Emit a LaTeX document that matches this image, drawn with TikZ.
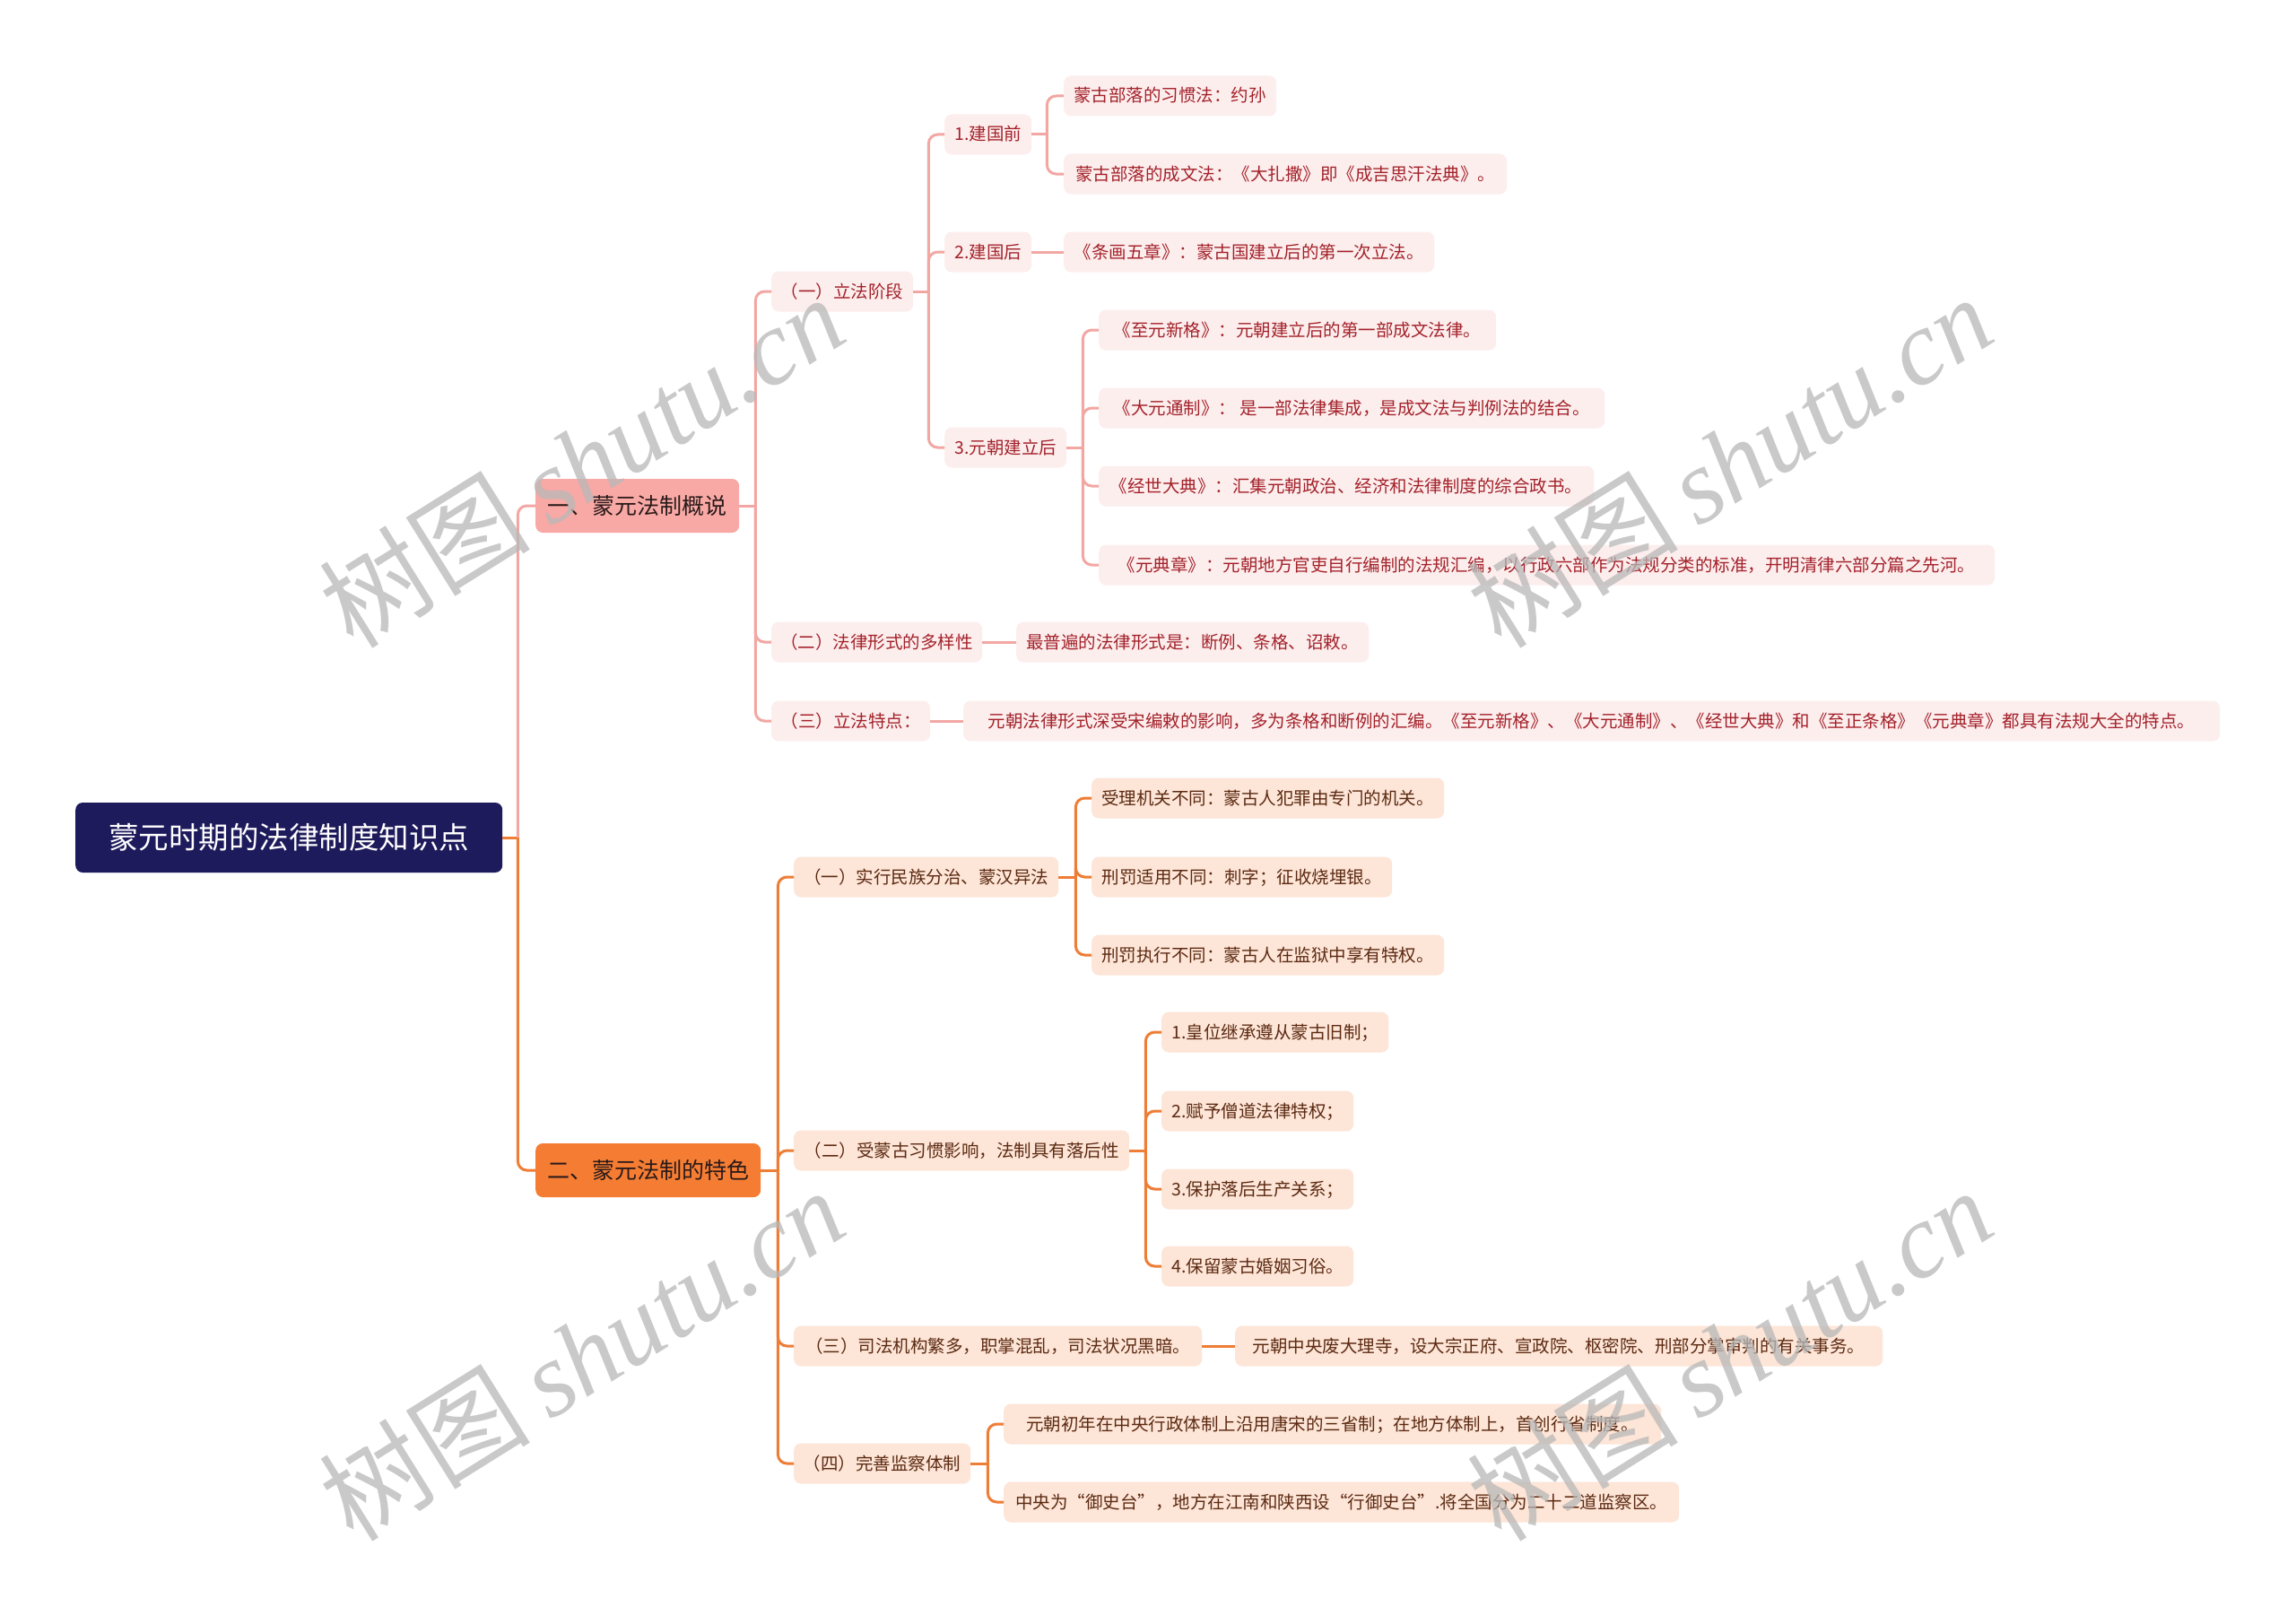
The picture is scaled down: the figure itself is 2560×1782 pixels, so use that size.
\documentclass[tikz,border=0pt]{standalone}
\usepackage{fontspec}
\setmainfont{Noto Sans CJK SC}
\newfontfamily\wmlatin{Liberation Serif}
\definecolor{rootfill}{HTML}{1E1B5C}
\definecolor{pinkmain}{HTML}{F8A9A5}
\definecolor{pinkline}{HTML}{F2A7A3}
\definecolor{pinkleaf}{HTML}{FDEEEE}
\definecolor{pinktext}{HTML}{A3222A}
\definecolor{orangemain}{HTML}{F57D33}
\definecolor{orangeline}{HTML}{EE7D36}
\definecolor{orangeleaf}{HTML}{FDE5D7}
\definecolor{orangetext}{HTML}{5C2A12}
\definecolor{maintext}{HTML}{2A1A1A}
\definecolor{wmgray}{HTML}{B8B8B8}
\begin{document}
\begin{tikzpicture}[x=1pt,y=-1pt,
 box/.style={rounded corners=8, inner xsep=1, inner ysep=0, anchor=west},
 small/.style={font=\fontsize{19.5}{22}\selectfont, text height=17, text depth=3},
 pleaf/.style={box, small, fill=pinkleaf, text=pinktext, minimum height=45},
 oleaf/.style={box, small, fill=orangeleaf, text=orangetext, minimum height=45},
 topic/.style={box, font=\fontsize{25}{28}\selectfont, text height=22.5, text depth=3.5, text=maintext, minimum height=60},
 rootbox/.style={box, fill=rootfill, text=white, font=\fontsize{33.5}{36}\selectfont, text height=30, text depth=5, minimum height=78},
 pconn/.style={draw=pinkline, line width=3, rounded corners=10},
 oconn/.style={draw=orangeline, line width=3, rounded corners=10},
 wm/.style={text=wmgray, opacity=0.75, rotate=32, inner sep=0}
]
\fill[white] (0,0) rectangle (2560,1782);
\useasboundingbox (0,0) rectangle (2560,1782);

% root and main topics
\node[rootbox, minimum width=476] (root) at (84,934) {蒙元时期的法律制度知识点};
\node[topic, fill=pinkmain, minimum width=227] (L1a) at (597,564) {一、蒙元法制概说};
\node[topic, fill=orangemain, minimum width=251] (L1b) at (597,1305) {二、蒙元法制的特色};

% pink branch
\node[pleaf, minimum width=158] (a1) at (860,325) {（一）立法阶段};
\node[pleaf, minimum width=235] (a2) at (860,716) {（二）法律形式的多样性};
\node[pleaf, minimum width=177] (a3) at (860,804) {（三）立法特点：};

\node[pleaf, minimum width=97] (a11) at (1053,150) {1.建国前};
\node[pleaf, minimum width=97] (a12) at (1053,281) {2.建国后};
\node[pleaf, minimum width=136] (a13) at (1053,499) {3.元朝建立后};

\node[pleaf, minimum width=237] (a111) at (1186,107) {蒙古部落的习惯法：约孙};
\node[pleaf, minimum width=494] (a112) at (1186,194) {蒙古部落的成文法：《大扎撒》即《成吉思汗法典》。};
\node[pleaf, minimum width=413] (a121) at (1186,281) {《条画五章》：蒙古国建立后的第一次立法。};

\node[pleaf, minimum width=443] (a131) at (1225,368) {《至元新格》：元朝建立后的第一部成文法律。};
\node[pleaf, minimum width=564] (a132) at (1225,455) {《大元通制》： 是一部法律集成，是成文法与判例法的结合。};
\node[pleaf, minimum width=552] (a133) at (1225,542) {《经世大典》：汇集元朝政治、经济和法律制度的综合政书。};
\node[pleaf, minimum width=999] (a134) at (1225,630) {《元典章》：元朝地方官吏自行编制的法规汇编，以行政六部作为法规分类的标准，开明清律六部分篇之先河。};

\node[pleaf, minimum width=393] (a21) at (1133,716) {最普遍的法律形式是：断例、条格、诏敕。};
\node[pleaf, minimum width=1401] (a31) at (1074,804) {元朝法律形式深受宋编敕的影响，多为条格和断例的汇编。《至元新格》、《大元通制》、《经世大典》和《至正条格》《元典章》都具有法规大全的特点。};

% orange branch
\node[oleaf, minimum width=295] (b1) at (885,978) {（一）实行民族分治、蒙汉异法};
\node[oleaf, minimum width=374] (b2) at (885,1283) {（二）受蒙古习惯影响，法制具有落后性};
\node[oleaf, minimum width=455] (b3) at (885,1501) {（三）司法机构繁多，职掌混乱，司法状况黑暗。};
\node[oleaf, minimum width=197] (b4) at (885,1632) {（四）完善监察体制};

\node[oleaf, minimum width=393] (b11) at (1217,890) {受理机关不同：蒙古人犯罪由专门的机关。};
\node[oleaf, minimum width=335] (b12) at (1217,978) {刑罚适用不同：刺字；征收烧埋银。};
\node[oleaf, minimum width=393] (b13) at (1217,1065) {刑罚执行不同：蒙古人在监狱中享有特权。};

\node[oleaf, minimum width=253] (b21) at (1295,1151) {1.皇位继承遵从蒙古旧制；};
\node[oleaf, minimum width=214] (b22) at (1295,1239) {2.赋予僧道法律特权；};
\node[oleaf, minimum width=214] (b23) at (1295,1326) {3.保护落后生产关系；};
\node[oleaf, minimum width=214] (b24) at (1295,1412) {4.保留蒙古婚姻习俗。};

\node[oleaf, minimum width=722] (b31) at (1377,1501) {元朝中央废大理寺，设大宗正府、宣政院、枢密院、刑部分掌审判的有关事务。};
\node[oleaf, minimum width=733] (b41) at (1119,1588) {元朝初年在中央行政体制上沿用唐宋的三省制；在地方体制上，首创行省制度。};
\node[oleaf, minimum width=753] (b42) at (1119,1675) {中央为“御史台”，地方在江南和陕西设“行御史台”.将全国分为二十二道监察区。};

% junctions
\path (root.east) ++(17,0) coordinate (j0);
\path (L1a.east) ++(18,0) coordinate (jA);
\path (a1.east) ++(17,0) coordinate (ja1);
\path (a11.east) ++(17,0) coordinate (ja11);
\path (a13.east) ++(18,0) coordinate (ja13);
\path (L1b.east) ++(19,0) coordinate (jB);
\path (b1.east) ++(19,0) coordinate (jb1);
\path (b2.east) ++(18,0) coordinate (jb2);
\path (b4.east) ++(19,0) coordinate (jb4);

% connectors: root
\draw[oconn] (root.east) -- (j0);
\draw[pconn] (j0) |- (L1a.west);
\draw[oconn] (j0) |- (L1b.west);

% pink connectors
\draw[pconn] (L1a.east) -- (jA);
\foreach \c in {a1,a2,a3} \draw[pconn] (jA) |- (\c.west);
\draw[pconn] (a1.east) -- (ja1);
\foreach \c in {a11,a12,a13} \draw[pconn] (ja1) |- (\c.west);
\draw[pconn] (a11.east) -- (ja11);
\foreach \c in {a111,a112} \draw[pconn] (ja11) |- (\c.west);
\draw[pconn] (a12.east) -- (a121.west);
\draw[pconn] (a13.east) -- (ja13);
\foreach \c in {a131,a132,a133,a134} \draw[pconn] (ja13) |- (\c.west);
\draw[pconn] (a2.east) -- (a21.west);
\draw[pconn] (a3.east) -- (a31.west);

% orange connectors
\draw[oconn] (L1b.east) -- (jB);
\foreach \c in {b1,b2,b3,b4} \draw[oconn] (jB) |- (\c.west);
\draw[oconn] (b1.east) -- (jb1);
\foreach \c in {b11,b12,b13} \draw[oconn] (jb1) |- (\c.west);
\draw[oconn] (b2.east) -- (jb2);
\foreach \c in {b21,b22,b23,b24} \draw[oconn] (jb2) |- (\c.west);
\draw[oconn] (b3.east) -- (b31.west);
\draw[oconn] (b4.east) -- (jb4);
\foreach \c in {b41,b42} \draw[oconn] (jb4) |- (\c.west);

% watermarks
\node[wm] (wm1) at (648,514) {\fontsize{118}{120}\selectfont 树图\hspace{22pt}{\wmlatin\itshape shutu.cn}};
\node[wm] (wm2) at (1928,514) {\fontsize{118}{120}\selectfont 树图\hspace{22pt}{\wmlatin\itshape shutu.cn}};
\node[wm] (wm3) at (648,1510) {\fontsize{118}{120}\selectfont 树图\hspace{22pt}{\wmlatin\itshape shutu.cn}};
\node[wm] (wm4) at (1928,1510) {\fontsize{118}{120}\selectfont 树图\hspace{22pt}{\wmlatin\itshape shutu.cn}};
\end{tikzpicture}
\end{document}
